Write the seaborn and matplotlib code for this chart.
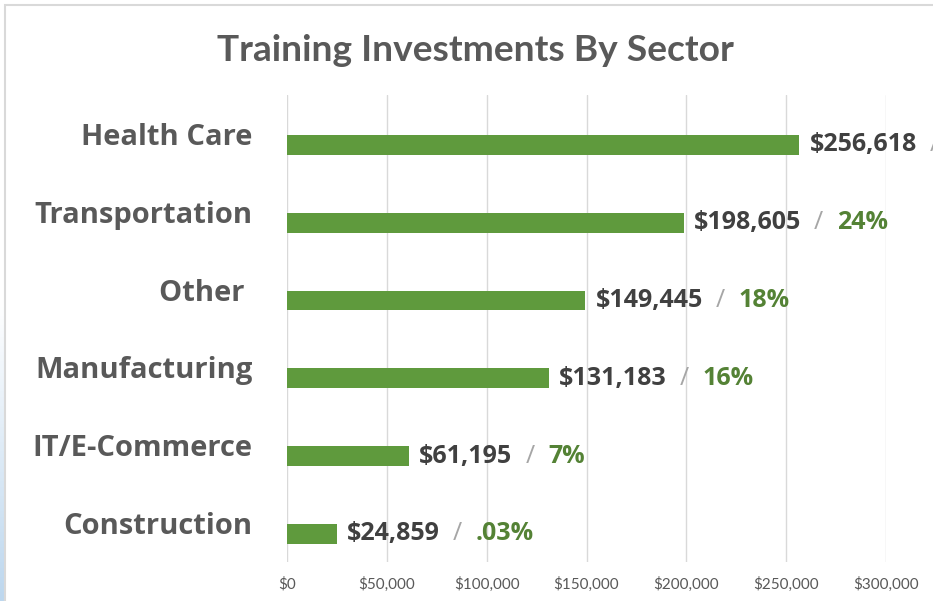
import numpy as np
import pandas as pd
import matplotlib
matplotlib.use("Agg")
import matplotlib.pyplot as plt
from matplotlib.ticker import FuncFormatter
import seaborn as sns

# chart data
sectors = ["Health Care", "Transportation", "Other ", "Manufacturing", "IT/E-Commerce", "Construction"]
investment = [256618, 198605, 149445, 131183, 61195, 24859]
share_labels = ["31%", "24%", "18%", "16%", "7%", ".03%"]
xticks = [0, 50000, 100000, 150000, 200000, 250000, 300000]

# Excel-style chart: real series plus an empty one so the bars sit below the labels
df = pd.DataFrame({
    "sector": sectors * 2,
    "value": [0] * len(sectors) + investment,
    "series": ["blank"] * len(sectors) + ["Investment"] * len(sectors),
})

sns.set_theme(style="white")
plt.rcParams["font.family"] = ["Lato", "DejaVu Sans"]
wide_font = ["Open Sans", "DejaVu Sans"]

bar_green = "#5F9A3D"
pct_green = "#548235"
dark_gray = "#404040"
label_gray = "#595959"

fig = plt.figure(figsize=(9.33, 6.01), dpi=100)
fig.patch.set_facecolor("white")

# light blue slide background peeking through at the left edge
bg = fig.add_axes([0, 0, 5 / 933, 1])
grad = np.linspace(0, 1, 200).reshape(-1, 1)
grad = np.clip((grad - 0.5) * 2, 0, 1)
bg.imshow(grad, aspect="auto", cmap=matplotlib.colors.LinearSegmentedColormap.from_list(
    "bl", ["#FFFFFF", "#BDD7EE"]), origin="upper")
bg.axis("off")

# chart frame
fig.add_artist(plt.Rectangle((5 / 933, -0.1), 1.1, 1 - 5 / 601 + 0.1, transform=fig.transFigure,
                             fill=False, edgecolor="#D9D9D9", linewidth=1.5))

ax = fig.add_axes([287 / 933, 1 - 562 / 601, (886 - 287) / 933, (562 - 95) / 601])
sns.barplot(data=df, x="value", y="sector", hue="series", hue_order=["blank", "Investment"],
            palette=["white", bar_green], saturation=1, dodge=True, width=0.56, gap=0.09,
            linewidth=0, legend=False, ax=ax)

ax.set_xlim(0, 300000)
ax.set_xticks(xticks)
ax.xaxis.set_major_formatter(FuncFormatter(lambda v, p: f"${v:,.0f}"))
ax.grid(axis="x", color="#D9D9D9", linewidth=1)
ax.grid(axis="y", visible=False)
for s in ax.spines.values():
    s.set_visible(False)
ax.set_xlabel("")
ax.set_ylabel("")
ax.tick_params(axis="y", length=0, pad=25, labelsize=21, labelcolor=label_gray)
ax.tick_params(axis="x", length=0, pad=11, labelsize=11, labelcolor=label_gray)
for t in ax.get_yticklabels():
    t.set_fontweight("bold")
    t.set_fontfamily(wide_font)

# data labels: value / share
bars = [p for p in ax.patches if p.get_width() > 0]
bars = sorted(bars, key=lambda p: p.get_y())
for p, val, pct in zip(bars, investment, share_labels):
    yc = p.get_y() + p.get_height() / 2
    t1 = ax.annotate(f"${val:,}", xy=(p.get_width(), yc), xytext=(10, 0),
                     textcoords="offset pixels", va="center", ha="left",
                     fontsize=18, fontweight="bold", color=dark_gray, annotation_clip=False,
                     family=wide_font)
    t2 = ax.annotate("/", xy=(1, 0.5), xycoords=t1, xytext=(13, 0), textcoords="offset pixels",
                     va="center", ha="left", fontsize=18, color="#A6A6A6", annotation_clip=False,
                     family=wide_font)
    ax.annotate(pct, xy=(1, 0.5), xycoords=t2, xytext=(14, 0), textcoords="offset pixels",
                va="center", ha="left", fontsize=18, fontweight="bold", color=pct_green,
                annotation_clip=False, family=wide_font)

fig.text(475 / 933, 1 - 61 / 601, "Training Investments By Sector", ha="center", va="baseline",
         fontsize=26.7, fontweight="bold", color=label_gray)

fig.savefig("out.png", dpi=100)
